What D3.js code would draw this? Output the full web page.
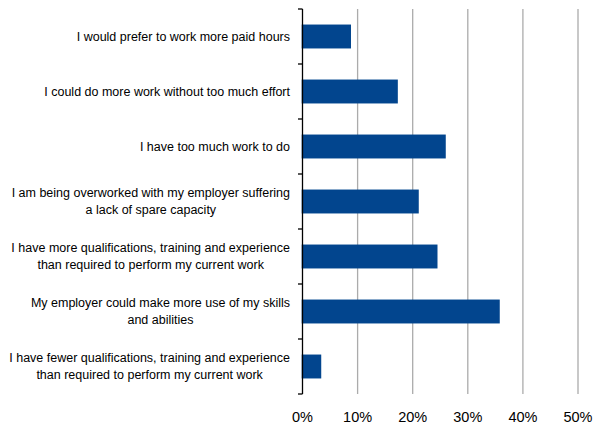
<!DOCTYPE html>
<html>
<head>
<meta charset="utf-8">
<script src="https://cdn.jsdelivr.net/npm/d3@7"></script>
<style>
  html, body { margin: 0; padding: 0; background: #fff; }
  svg { display: block; }
  text { font-family: "Liberation Sans", Arial, sans-serif; fill: #000; }
</style>
</head>
<body>
<svg id="chart" width="602" height="423"></svg>
<script>
// Survey statements (line breaks marked with "\n") and share of respondents agreeing
const categories = [
  "I would prefer to work more paid hours",
  "I could do more work without too much effort",
  "I have too much work to do",
  "I am being overworked with my employer suffering\na lack of spare capacity",
  "I have more qualifications, training and experience\nthan required to perform my current work",
  "My employer could make more use of my skills\nand abilities",
  "I have fewer qualifications, training and experience\nthan required to perform my current work"
];
const values = [8.8, 17.3, 26.0, 21.1, 24.5, 35.8, 3.4];
const tickValues = [0, 10, 20, 30, 40, 50];
const tickLabels = ["0%", "10%", "20%", "30%", "40%", "50%"];

const svg = d3.select("#chart");
const plot = { left: 302.5, right: 578, top: 9, bottom: 394 };

const x = d3.scaleLinear().domain([0, 50]).range([plot.left, plot.right]);
const y = d3.scaleBand()
  .domain(categories)
  .range([plot.top, plot.bottom])
  .paddingInner(0.565)
  .paddingOuter(0.2825);

// vertical gridlines
svg.append("g")
  .selectAll("line")
  .data(tickValues.filter(d => d > 0))
  .join("line")
  .attr("x1", d => x(d)).attr("x2", d => x(d))
  .attr("y1", plot.top).attr("y2", plot.bottom)
  .attr("stroke", "#ababab")
  .attr("stroke-width", 1.3);

// bars
svg.append("g")
  .selectAll("rect")
  .data(values)
  .join("rect")
  .attr("x", x(0) - 0.8)
  .attr("y", (d, i) => y(categories[i]))
  .attr("height", y.bandwidth())
  .attr("width", d => x(d) - x(0) + 0.8)
  .attr("fill", "#02458e");

// category axis: vertical line with ticks at band boundaries
const axis = svg.append("g");
axis.append("line")
  .attr("x1", plot.left).attr("x2", plot.left)
  .attr("y1", plot.top).attr("y2", plot.bottom)
  .attr("stroke", "#000").attr("stroke-width", 1.3);
const step = y.step();
const boundaries = d3.range(categories.length + 1).map(i => plot.top + i * step);
axis.selectAll("line.tick")
  .data(boundaries)
  .join("line")
  .attr("class", "tick")
  .attr("x1", plot.left - 4.5).attr("x2", plot.left)
  .attr("y1", d => d).attr("y2", d => d)
  .attr("stroke", "#000").attr("stroke-width", 1.3);

// category labels: right-aligned block, lines centred within it
const labelRight = 290;
const lineH = 17;
const labels = svg.append("g").style("font-size", "12.5px");
categories.forEach(cat => {
  const lines = cat.split("\n");
  const g = labels.append("g");
  const texts = lines.map(l => g.append("text").text(l));
  const maxW = d3.max(texts, t => t.node().getComputedTextLength());
  const cx = labelRight - maxW / 2;
  const cy = y(cat) + y.bandwidth() / 2 - (lines.length > 1 ? 1 : 0);
  texts.forEach((t, i) => {
    t.attr("x", cx)
      .attr("text-anchor", "middle")
      .attr("y", cy + 4.5 + (i - (lines.length - 1) / 2) * lineH);
  });
});

// value axis labels
svg.append("g")
  .style("font-size", "14.5px")
  .selectAll("text")
  .data(tickValues)
  .join("text")
  .attr("x", d => x(d))
  .attr("y", 421.5)
  .attr("text-anchor", "middle")
  .text((d, i) => tickLabels[i]);
</script>
</body>
</html>
